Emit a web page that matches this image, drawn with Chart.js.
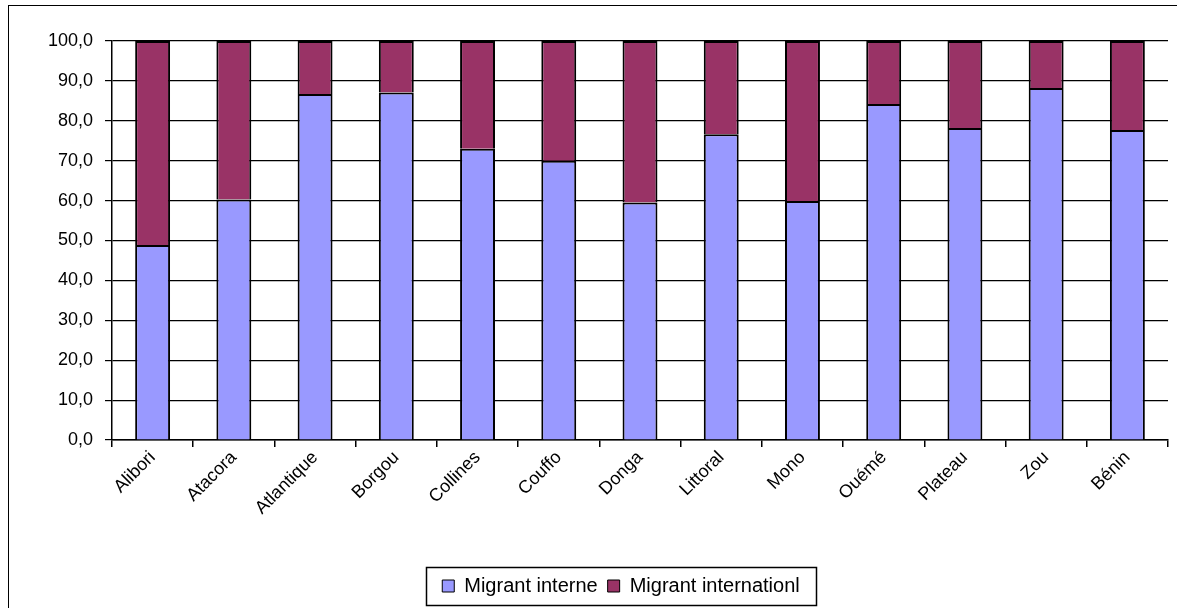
<!DOCTYPE html>
<html><head><meta charset="utf-8">
<script src="https://cdn.jsdelivr.net/npm/chart.js@4/dist/chart.umd.min.js"></script>
<style>
html,body{margin:0;padding:0;background:#fff;}
#frame{position:absolute;left:8px;top:5px;width:1180px;height:610px;border:1px solid #000;box-sizing:border-box;}
#wrap{position:absolute;left:0;top:0;width:1177px;height:608px;}
</style></head>
<body>
<div id="frame"></div>
<div id="wrap"><canvas id="c" width="1177" height="608"></canvas></div>
<script>
const categories = ["Alibori","Atacora","Atlantique","Borgou","Collines","Couffo","Donga","Littoral","Mono","Ouémé","Plateau","Zou","Bénin"];
const migrantInterne = [48.9, 60.3, 86.7, 87.1, 73.0, 70.0, 59.5, 76.6, 59.9, 84.2, 78.2, 88.2, 77.7];
const migrantInternational = [51.1, 39.7, 13.3, 12.9, 27.0, 30.0, 40.5, 23.4, 40.1, 15.8, 21.8, 11.8, 22.3];
const seriesNames = ["Migrant interne", "Migrant internationl"];

const legendBox = {
  id: 'legendBox',
  afterLayout(chart) {
    const l = chart.legend;
    l.left += 37;
    l.right += 37;
  },
  afterDraw(chart) {
    const l = chart.legend;
    const boxes = l.legendHitBoxes;
    if (!boxes || !boxes.length) return;
    let minX = Infinity, maxX = -Infinity, minY = Infinity, maxY = -Infinity;
    boxes.forEach(b => { minX = Math.min(minX, b.left); maxX = Math.max(maxX, b.left + b.width); minY = Math.min(minY, b.top); maxY = Math.max(maxY, b.top + b.height); });
    const ctx = chart.ctx;
    ctx.save();
    ctx.strokeStyle = '#000';
    ctx.lineWidth = 1.5;
    const x0 = Math.round(minX - 16), x1 = Math.round(maxX + 16);
    const cy = (minY + maxY) / 2;
    ctx.strokeRect(x0 + 0.5, Math.round(cy - 19) + 0.5, x1 - x0, 38);
    ctx.restore();
  }
};

new Chart(document.getElementById('c'), {
  type: 'bar',
  data: {
    labels: categories,
    datasets: [
      { label: seriesNames[0], data: migrantInterne, backgroundColor: '#9999FF', borderColor: '#000', borderWidth: 2, barPercentage: 0.86, categoryPercentage: 0.5 },
      { label: seriesNames[1], data: migrantInternational, backgroundColor: '#993366', borderColor: '#000', borderWidth: 2, barPercentage: 0.86, categoryPercentage: 0.5 }
    ]
  },
  options: {
    responsive: false,
    animation: false,
    layout: { padding: { left: 0, right: 9, top: 41, bottom: 2 } },
    scales: {
      x: {
        stacked: true,
        afterFit: s => { s.height = 126; },
        grid: { drawOnChartArea: false, color: '#000', tickLength: 7, offset: true, lineWidth: 1.5 },
        border: { color: '#000', width: 1.5 },
        ticks: { color: '#000', font: { family: 'Liberation Sans', size: 18 }, minRotation: 45, maxRotation: 45, padding: 0 }
      },
      y: {
        stacked: true,
        min: 0, max: 100,
        afterFit: s => { s.width = 112; },
        grid: { color: '#000', tickLength: 7, lineWidth: 1.2 },
        border: { color: '#000', width: 1.5 },
        ticks: { stepSize: 10, color: '#000', font: { family: 'Liberation Sans', size: 18 }, padding: 12,
          callback: v => v.toFixed(1).replace('.', ',') }
      }
    },
    plugins: {
      legend: {
        position: 'bottom',
        labels: { color: '#000', font: { family: 'Liberation Sans', size: 20 }, boxWidth: 12, boxHeight: 12, padding: 10,
          generateLabels(chart) {
            return chart.data.datasets.map((d, i) => ({ text: d.label, fillStyle: d.backgroundColor, strokeStyle: '#000', lineWidth: 1, datasetIndex: i, fontColor: '#000' }));
          } }
      },
      tooltip: { enabled: false }
    }
  },
  plugins: [legendBox]
});
</script>
</body></html>
